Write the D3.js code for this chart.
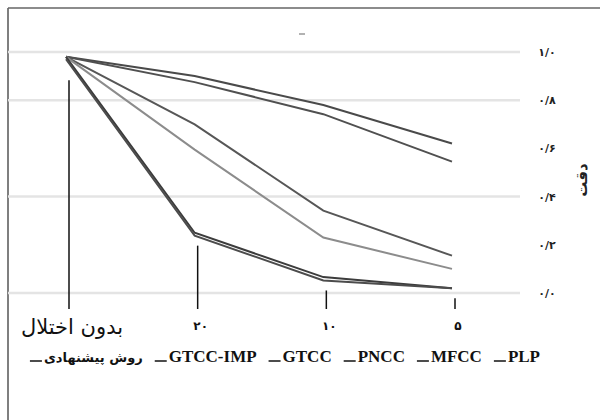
<!DOCTYPE html>
<html>
<head>
<meta charset="utf-8">
<script src="https://cdn.jsdelivr.net/npm/d3@7"></script>
<style>
  body { margin: 0; background: #fff; }
  svg { display: block; }
</style>
</head>
<body>
<svg id="chart" width="600" height="420"></svg>
<script>
// categories (noise level), left to right
const categories = ["بدون اختلال", "۲۰", "۱۰", "۵"];

// accuracy per method
const proposed = [0.98, 0.9, 0.78, 0.62];
const gtccImp = [0.98, 0.875, 0.742, 0.545];
const gtcc = [0.98, 0.7, 0.342, 0.155];
const pncc = [0.98, 0.595, 0.23, 0.1];
const mfcc = [0.98, 0.25, 0.066, 0.02];
const plp = [0.97, 0.238, 0.052, 0.02];

const yTicks = [0, 0.2, 0.4, 0.6, 0.8, 1.0];
const yTickLabels = ["۰/۰", "۰/۲", "۰/۴", "۰/۶", "۰/۸", "۱/۰"];
const gridValues = [0, 0.4, 0.8, 1.0];

// legend order as drawn, right to left
const legendNames = ["PLP", "MFCC", "PNCC", "GTCC", "GTCC-IMP", "روش پیشنهادی"];

const series = [
  { name: "روش پیشنهادی", values: proposed, color: "#4a4a4a" },
  { name: "GTCC-IMP", values: gtccImp, color: "#505050" },
  { name: "GTCC", values: gtcc, color: "#575757" },
  { name: "PNCC", values: pncc, color: "#8c8c8c" },
  { name: "MFCC", values: mfcc, color: "#3c3c3c" },
  { name: "PLP", values: plp, color: "#4c4c4c" }
];

const svg = d3.select("#chart");

const x = d3.scalePoint().domain(categories).range([66, 452]);
const y = d3.scaleLinear().domain([0, 1]).range([293, 52]);

// frame
svg.append("line")
  .attr("x1", 8).attr("y1", 8).attr("x2", 8).attr("y2", 420)
  .attr("stroke", "#555").attr("stroke-width", 1.5);
svg.append("line")
  .attr("x1", 8).attr("y1", 8).attr("x2", 600).attr("y2", 8)
  .attr("stroke", "#666").attr("stroke-width", 1.5);

// small leftover mark above the plot
svg.append("line")
  .attr("x1", 299).attr("y1", 34).attr("x2", 305).attr("y2", 34)
  .attr("stroke", "#999").attr("stroke-width", 1.5);

// gridlines
svg.append("g")
  .selectAll("line")
  .data(gridValues)
  .enter()
  .append("line")
  .attr("x1", 8)
  .attr("x2", 520)
  .attr("y1", function(d) { return y(d); })
  .attr("y2", function(d) { return y(d); })
  .attr("stroke", "#e4e4e4")
  .attr("stroke-width", 2.5);

// y tick labels on the right
svg.append("g")
  .selectAll("text")
  .data(yTicks)
  .enter()
  .append("text")
  .text(function(d, i) { return yTickLabels[i]; })
  .attr("x", 547)
  .attr("y", function(d) { return y(d) + 4; })
  .attr("text-anchor", "middle")
  .attr("direction", "ltr")
  .style("font-family", "'DejaVu Sans'")
  .style("font-weight", "bold")
  .style("font-size", "11px")
  .style("fill", "#222");

// y axis title
svg.append("text")
  .text("دقت")
  .attr("transform", "translate(587,180) rotate(-90)")
  .attr("text-anchor", "middle")
  .style("font-family", "'DejaVu Sans'")
  .style("font-weight", "bold")
  .style("font-size", "15px")
  .style("fill", "#222");

// drop ticks under each category
svg.append("g")
  .selectAll("line")
  .data(categories)
  .enter()
  .append("line")
  .attr("x1", function(d) { return x(d) + 3; })
  .attr("x2", function(d) { return x(d) + 3; })
  .attr("y1", function(d, i) {
    let low = d3.min(series, function(s) { return s.values[i]; });
    return y(low) + (i === 0 ? 21 : 10);
  })
  .attr("y2", 309)
  .attr("stroke", "#111")
  .attr("stroke-width", 1.5);

// lines
let line = d3.line()
  .x(function(d, i) { return x(categories[i]); })
  .y(function(d) { return y(d); });

svg.append("g")
  .selectAll("path")
  .data(series)
  .enter()
  .append("path")
  .attr("d", function(s) { return line(s.values); })
  .attr("fill", "none")
  .attr("stroke", function(s) { return s.color; })
  .attr("stroke-width", 2);

// x labels
svg.append("g")
  .selectAll("text")
  .data(categories)
  .enter()
  .append("text")
  .text(function(d) { return d; })
  .attr("x", function(d) { return x(d) + 6; })
  .attr("y", function(d, i) { return i === 0 ? 334 : 330; })
  .attr("text-anchor", "middle")
  .attr("direction", function(d, i) { return i === 0 ? "rtl" : "ltr"; })
  .style("font-family", "'DejaVu Sans'")
  .style("font-weight", function(d, i) { return i === 0 ? "normal" : "bold"; })
  .style("font-size", function(d, i) { return i === 0 ? "21px" : "12px"; })
  .style("fill", "#111");

// legend, laid out right to left
let legend = svg.append("g");
let cursor = 540;
legendNames.forEach(function(name) {
  let persian = /[\u0600-\u06FF]/.test(name);
  let t = legend.append("text")
    .text(name)
    .attr("x", cursor)
    .attr("y", 362)
    .attr("text-anchor", persian ? "start" : "end")
    .attr("direction", persian ? "rtl" : "ltr")
    .style("font-family", persian ? "'DejaVu Sans'" : "'Liberation Serif', 'Times New Roman', serif")
    .style("font-weight", "bold")
    .style("font-size", persian ? "13px" : "17px")
    .style("fill", "#111");
  let w = t.node().getComputedTextLength();
  let left = cursor - w;
  legend.append("line")
    .attr("x1", left - 14)
    .attr("x2", left - 2)
    .attr("y1", 361)
    .attr("y2", 361)
    .attr("stroke", "#111")
    .attr("stroke-width", 1.5);
  cursor = left - 26;
});
</script>
</body>
</html>
